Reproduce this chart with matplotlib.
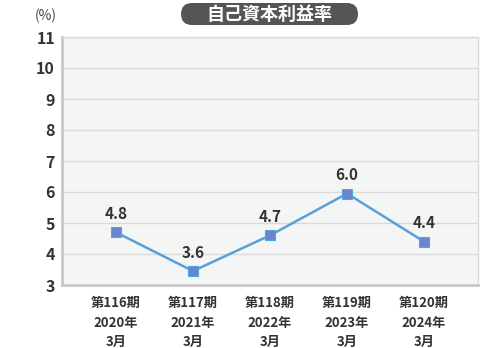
import matplotlib.pyplot as plt
from matplotlib.patches import FancyBboxPatch
from matplotlib.transforms import IdentityTransform

plt.rcParams['font.family'] = ['Noto Sans CJK JP', 'DejaVu Sans']

# データ
periods = ['第116期\n2020年\n3月', '第117期\n2021年\n3月', '第118期\n2022年\n3月',
           '第119期\n2023年\n3月', '第120期\n2024年\n3月']
roe = [4.7, 3.45, 4.6, 5.95, 4.4]
roe_labels = ['4.8', '3.6', '4.7', '6.0', '4.4']
yticks = [3, 4, 5, 6, 7, 8, 9, 10, 11]

fig = plt.figure(figsize=(4.8, 3.48), dpi=100)
ax = fig.add_axes([62 / 480, 1 - 285 / 348, 416 / 480, 248 / 348])
ax.set_facecolor('#f4f5f5')

x = list(range(len(periods)))
ax.plot(x, roe, color='#5aa0d8', lw=1.8, zorder=3)
ax.plot(x, roe, ls='none', marker='s', ms=7.5, mfc='#6b84d0', mec='#4fa8d6', mew=0.8, zorder=4)
for xi, yi, lab in zip(x, roe, roe_labels):
    ax.text(xi, yi + 0.33, lab, ha='center', va='bottom', fontsize=11, fontweight='bold', color='#333333')

ax.set_xlim(-0.7, 4.7)
ax.set_ylim(3, 11)
ax.set_yticks(yticks)
ax.set_xticks(x)
ax.set_xticklabels(periods, fontsize=9.5, fontweight='bold', color='#333333', linespacing=1.5)
ax.tick_params(axis='y', labelsize=11.5, colors='#333333', length=0, pad=5)
ax.tick_params(axis='x', length=0, pad=8)
for lab in ax.get_yticklabels():
    lab.set_fontweight('bold')

ax.grid(axis='y', color='#d9d9d9', lw=1)
ax.set_axisbelow(True)
for side in ['top', 'right']:
    ax.spines[side].set_color('#d8d8d8')
    ax.spines[side].set_linewidth(1)
for side in ['left', 'bottom']:
    ax.spines[side].set_color('#c8c8c8')
    ax.spines[side].set_linewidth(2)

fig.text(46 / 480, 1 - 16 / 348, '(%)', ha='center', va='center', fontsize=10, color='#444444')

# タイトル
box = FancyBboxPatch((181, 348 - 25), 177, 22, boxstyle='round,pad=0,rounding_size=11',
                     transform=IdentityTransform(), fc='#555555', ec='none')
fig.patches.append(box)
fig.text(269 / 480, 1 - 14 / 348, '自己資本利益率', ha='center', va='center',
         fontsize=13, fontweight='bold', color='white')

plt.savefig('out.png', dpi=100)
